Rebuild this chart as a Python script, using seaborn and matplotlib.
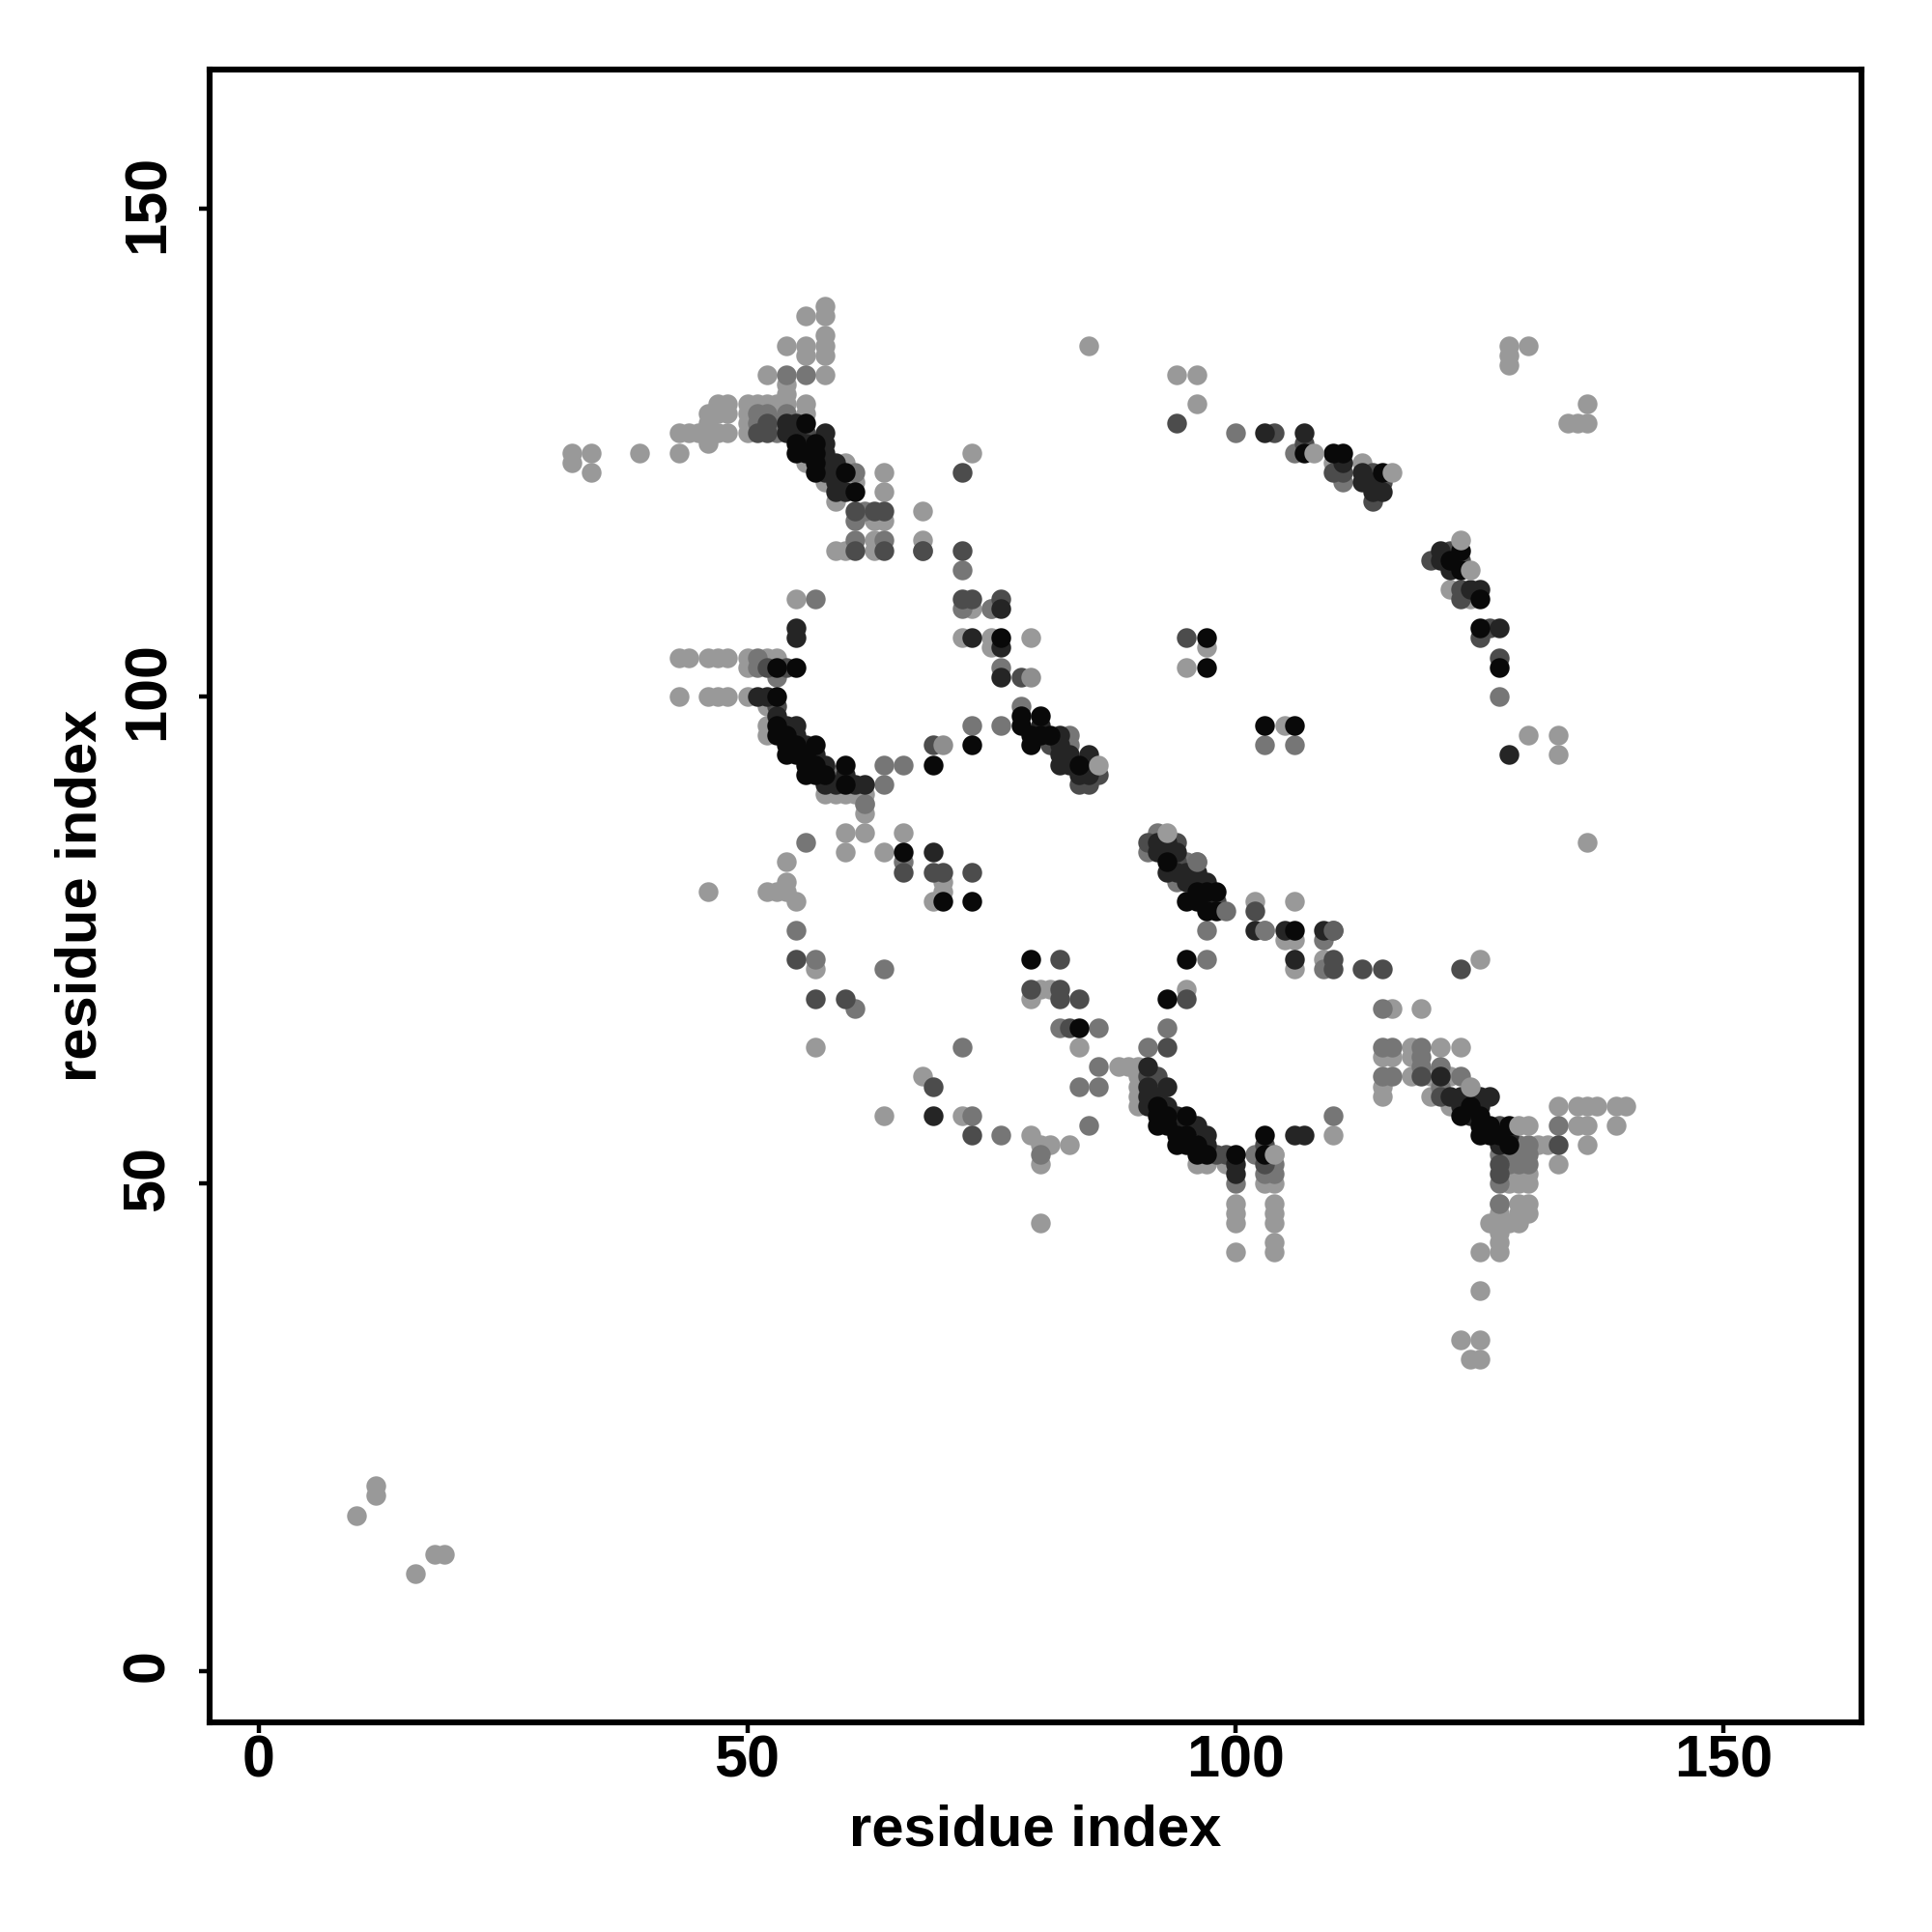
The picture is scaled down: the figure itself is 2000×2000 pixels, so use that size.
import matplotlib
matplotlib.use("Agg")
import matplotlib.pyplot as plt
from matplotlib.transforms import ScaledTranslation
import seaborn as sns
import pandas as pd

# contact pairs (residue i, residue j) grouped by how dark the dot is
light = [(58,140),(58,139),(56,139),(58,137),(58,136),(58,135),(56,136),(56,135),(54,136),(52,133),(58,133),
         (54,132),(54,131),(54,130),(56,130),(56,129),(47,130),(48,130),(50,130),(51,130),(52,130),(53,130),
         (46,129),(47,129),(48,129),(50,129),(53,129),(46,128),(50,128),(43,127),(44,127),(45,127),(46,127),
         (47,127),(48,127),(50,127),(46,126),(32,125),(34,125),(39,125),(43,125),(32,124),(56,124),(34,123),
         (60,124),(58,122),(61,122),(64,123),(64,121),(59,120),(63,118),(64,118),(63,116),(59,115),(60,115),(63,115),
         (68,119),(68,116),(73,125),(85,136),(94,133),(96,133),(96,130),(128,136),(130,136),(128,135),(128,134),
         (136,130),(134,128),(135,128),(136,128),(55,110),(72,106),(75,106),(79,106),(75,105),(73,109),
         (43,104),(44,104),(46,104),(47,104),(48,104),(50,104),(52,104),(53,104),(50,103),(43,100),(46,100),(47,100),
         (48,100),(50,100),(52,99),(52,97),(52,96),(60,90),(61,90),(62,90),(62,88),(62,89),(59,90),(58,90),
         (60,86),(62,86),(66,86),(60,84),(64,84),(54,83),(54,81),(52,80),(53,80),(54,80),(55,79),(46,80),(70,81),(70,80),(69,79),
         (57,72),(57,64),(68,61),(64,57),(72,57),(79,55),(80,54),(81,54),(83,54),(80,52),(80,46),(80,70),(81,70),(79,69),
         (84,64),(130,96),(133,96),(133,94),(136,85),(105,97),(97,105),(95,103),(102,79),(106,79),(105,75),(106,75),
         (109,73),(106,72),(95,70),(116,68),(119,68),(88,62),(89,62),(90,62),(90,61),(90,60),(90,59),(90,58),
         (96,52),(97,52),(99,52),(104,53),(103,50),(104,50),(100,48),(104,48),(100,47),(104,47),(100,46),(104,46),
         (104,44),(100,43),(104,43),(110,55),(115,63),(116,63),(115,60),(115,59),(118,64),(121,64),(123,64),(118,63),
         (118,61),(120,61),(122,61),(120,59),(122,58),(133,58),(135,58),(136,58),(137,58),(139,58),(140,58),(135,56),
         (136,56),(139,56),(131,54),(132,54),(136,54),(129,53),(133,52),(128,51),(130,51),(128,50),(129,50),(130,50),
         (127,48),(129,48),(130,48),(127,47),(129,47),(130,47),(126,46),(127,46),(128,46),(129,46),(127,45),(127,44),
         (125,43),(127,43),(125,39),(123,34),(125,34),(124,32),(125,32),(10,16),(12,19),(12,18),(16,10),(18,12),(19,12),
         (113,124),(110,124),(124,110),(75,109),(122,111),(125,73)]

mid = [(54,133),(56,133),(54,129),(51,129),(52,129),(51,128),(53,128),(53,127),(61,123),(62,119),(61,118),(61,116),
       (64,116),(68,115),(72,113),(57,110),(72,109),(75,109),(51,104),(51,103),(53,102),(76,103),(78,99),(83,96),(83,95),
       (73,97),(76,97),(64,93),(66,93),(59,92),(64,91),(62,89),(56,85),(66,83),(55,76),(57,73),(64,72),(61,68),(72,64),
       (73,57),(76,55),(80,53),(85,56),(82,66),(86,66),(86,62),(84,60),(86,60),(103,95),(106,95),(100,127),(106,125),
       (111,122),(127,100),(92,86),(91,84),(95,83),(96,83),(94,81),(103,76),(109,75),(97,76),(97,73),(109,72),(115,68),
       (93,66),(91,64),(102,53),(104,52),(103,51),(104,51),(100,50),(110,57),(115,64),(116,64),(115,61),(116,61),
       (119,63),(119,62),(121,62),(119,64),(123,61),(121,60),(127,53),(128,53),(130,53),(128,52),(129,52),(130,52),
       (127,50),(129,54),(130,54),(133,56),(127,48)]

dark = [(72,115),(72,123),(72,110),(73,110),(76,110),(94,128),(95,106),(66,82),(69,82),(70,82),(73,82),(55,73),
        (57,69),(60,69),(69,60),(73,55),(82,73),(79,70),(82,70),(82,69),(84,69),(83,66),(93,64),(110,76),(110,73),
        (110,72),(113,72),(115,72),(123,72),(102,78),(95,69),(91,85),(94,85),(94,83),(98,79),(104,127),(107,126),
        (110,123),(111,123),(114,123),(115,122),(114,120),(120,114),(122,115),(123,114),(123,111),(123,110),(126,107),
        (125,106),(127,104),(54,103),(52,103),(53,99),(69,95),(78,102),(81,95),(85,91),(84,91),(86,92),(52,128),
        (51,127),(52,127),(56,127),(61,119),(63,119),(64,119),(61,115),(64,115),(68,115),(91,61),(92,61),(98,53),
        (99,53),(103,54),(103,52),(119,61),(121,59),(127,56),(127,52),(127,51),(133,54)]

vdark = [(54,128),(55,128),(54,127),(55,127),(58,127),(58,126),(58,124),(59,124),(59,123),(59,121),
         (55,107),(55,106),(73,106),(76,105),(76,109),(76,102),(51,100),(52,100),(55,97),(80,97),(57,94),(85,93),(83,93),
         (85,92),(62,91),(69,84),(69,57),(103,127),(107,127),(111,124),(113,123),(113,122),(114,122),(114,121),
         (115,121),(121,115),(121,114),(122,113),(124,111),(125,111),(127,107),(92,85),(93,85),(93,84),(96,81),(97,81),
         (97,79),(102,76),(105,76),(109,76),(106,73),(128,94),(106,55),(107,55),(91,62),(91,60),(93,60),
         (94,57),(97,55),(100,52),(100,51),(121,61),(123,59),(122,59),(124,59),(125,58),(124,57),(128,55),(127,54),
         (92,84),(94,84),(93,82),(94,82),(95,82),(96,82),(95,81),(82,96),(82,95),(82,94),(83,94),(85,94),(82,93),(84,92),
         (54,97),(55,96),(56,95),(58,93),(58,91),(59,91),(61,91),(60,92),(53,98),(91,59),(91,58),(93,58),(92,59),
         (94,56),(95,56),(96,56),(97,54),(123,58),(125,59),(126,59),(58,125),(56,126),(58,123),(59,122),(60,121)]

black = [(56,128),(55,126),(56,125),(55,125),(57,126),(57,125),(57,124),(57,123),(60,123),(61,121),(55,103),
         (53,103),(76,106),(53,100),(53,97),(53,96),(54,96),(54,95),(55,95),(57,95),(54,94),(55,94),(56,94),
         (56,93),(57,93),(60,93),(56,92),(57,92),(58,92),(60,91),(69,93),(73,95),(78,98),(80,98),(78,97),(79,96),(80,96),
         (81,96),(79,95),(84,93),(66,84),(73,79),(70,79),(79,73),(84,66),(97,106),(97,103),(103,97),(106,97),
         (107,125),(110,125),(111,125),(115,123),(123,115),(122,114),(123,113),(125,110),(125,107),(127,103),(93,83),
         (96,80),(97,80),(98,80),(95,79),(96,79),(97,78),(98,78),(95,73),(106,76),(93,69),(92,58),(92,57),(93,57),(95,57),
         (92,56),(93,56),(94,55),(95,55),(94,54),(95,54),(96,54),(96,53),(97,53),(100,53),(103,55),(103,53),(123,57),
         (125,57),(125,56),(126,56),(128,56),(125,55),(126,55),(127,55),(128,54),(124,58)]

# these light and mid dots were drawn last and sit on top of the dark ones
top = [(86,93),(108,125),(116,123),(124,113),(123,116),(79,102),(70,95),(129,56),(130,56),(99,78),(103,76),(110,76),
       (124,60),(104,53),(93,86),(96,83)]
top_gray = ["#9a9a9a","#9a9a9a","#9a9a9a","#9a9a9a","#9a9a9a","#8e8e8e","#8e8e8e","#9a9a9a","#9a9a9a","#6e6e6e",
            "#777777","#606060","#949494","#9a9a9a","#9a9a9a","#6e6e6e"]

tick_vals = [0, 50, 100, 150]

levels = [(light, "#999999"), (mid, "#767676"), (dark, "#4c4c4c"), (vdark, "#252525"), (black, "#090909")]

sns.set_theme(style="white")
plt.rcParams["font.family"] = ["Liberation Sans", "DejaVu Sans"]
plt.rcParams["font.weight"] = "bold"

fig = plt.figure(figsize=(10, 10), dpi=200)
ax = fig.add_axes([0.1085, 0.1085, 0.855, 0.8555])

for pts, col in levels:
    df = pd.DataFrame(pts, columns=["i", "j"])
    sns.scatterplot(data=df, x="i", y="j", color=col, s=54, linewidth=0, ax=ax)
df_top = pd.DataFrame(top, columns=["i", "j"])
df_top["gray"] = top_gray
for col, grp in df_top.groupby("gray"):
    sns.scatterplot(data=grp, x="i", y="j", color=col, s=54, linewidth=0, ax=ax)

ax.set_xlim(-5.05, 164.1)
ax.set_ylim(-5.25, 164.3)
ax.set_xticks(tick_vals)
ax.set_yticks(tick_vals)
ax.tick_params(axis="both", length=4, width=1.6, color="black", labelsize=22, labelcolor="black", bottom=True, left=True)
ax.tick_params(axis="x", pad=0.4)
ax.tick_params(axis="y", pad=8.5)
# rotated labels sit a little low otherwise
nudge = ScaledTranslation(0, 2 / 72, fig.dpi_scale_trans)
for lab in ax.get_yticklabels():
    lab.set_rotation(90)
    lab.set_va("center")
    lab.set_transform(lab.get_transform() + nudge)
ax.set_xlabel("residue index", fontsize=21.5, fontweight="bold", color="black", labelpad=5.5)
ax.set_ylabel("residue index", fontsize=21.5, fontweight="bold", color="black", labelpad=5)
for sp in ax.spines.values():
    sp.set_visible(True)
    sp.set_color("black")
    sp.set_linewidth(2.2)

fig.savefig("out.png", dpi=200)
